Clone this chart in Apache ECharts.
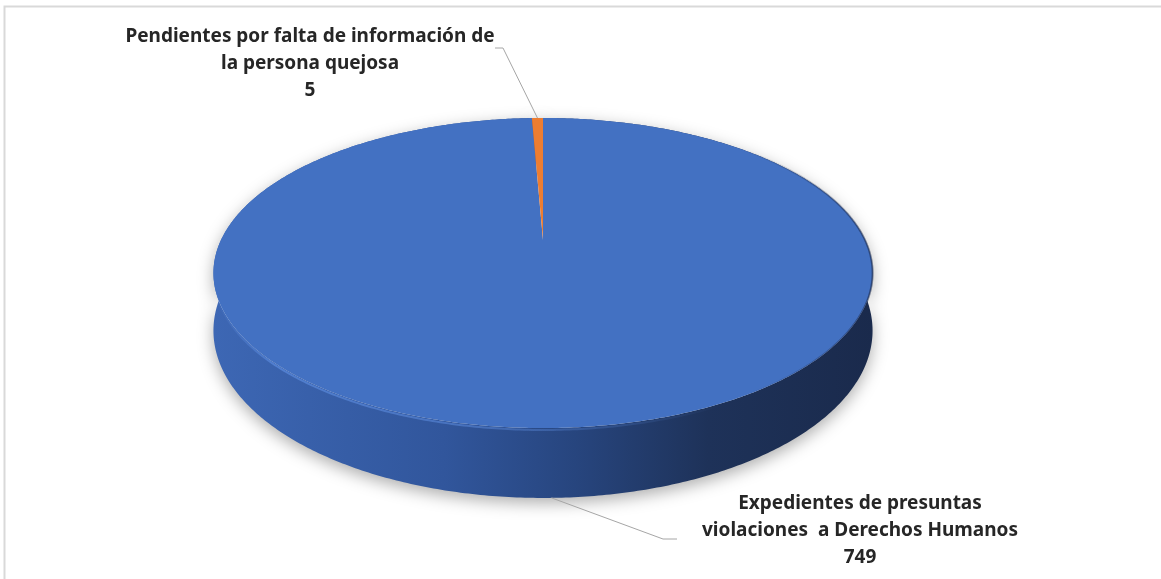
<!DOCTYPE html>
<html>
<head>
<meta charset="utf-8">
<script src="https://cdn.jsdelivr.net/npm/echarts@6/dist/echarts.min.js"></script>
<style>
html, body { margin: 0; padding: 0; background: #fff; }
#pie { width: 1161px; height: 579px; }
</style>
</head>
<body>
<div id="pie"></div>
<script>
const categories = ['Expedientes de presuntas\nviolaciones  a Derechos Humanos', 'Pendientes por falta de información de\nla persona quejosa']
const values = [749, 5]
const colors = ['#4371c2', '#ed7d31']

// tilted pie geometry (screen px)
const cx = 543
const cy = 240
const rx = 322
const ry = 148
const depth = 55
const persp = -0.213
// label centers and leader bends
const labelPos = [[860, 531], [310, 64]]
const leaderBend = [[[663, 539], [677, 539]], [[503, 48], [495, 48]]]

const total = values.reduce((a, b) => a + b, 0)

function proj (phi, h) {
  const u = Math.sin(phi)
  const v = -Math.cos(phi)
  const d = 1 + persp * v
  return [cx + rx * u / d, cy + (ry * v + h) / d]
}

function sliceAngles (i) {
  let start = 0
  for (let j = 0; j < i; j++) start += values[j]
  return [start / total * Math.PI * 2, (start + values[i]) / total * Math.PI * 2]
}

function arc (a0, a1, h) {
  const n = Math.max(2, Math.ceil((a1 - a0) / 0.01))
  const pts = []
  for (let k = 0; k <= n; k++) pts.push(proj(a0 + (a1 - a0) * k / n, h))
  return pts
}

const wallFill = {
  type: 'linear', x: cx - 330, y: 0, x2: cx + 330, y2: 0, global: true,
  colorStops: [
    { offset: 0, color: '#3d67b4' },
    { offset: 0.35, color: '#31569c' },
    { offset: 0.55, color: '#27457e' },
    { offset: 0.75, color: '#1e3259' },
    { offset: 1, color: '#1a2a4c' }
  ]
}
const rimStroke = {
  type: 'linear', x: cx - 330, y: 0, x2: cx + 180, y2: 0, global: true,
  colorStops: [
    { offset: 0, color: 'rgba(100,150,235,0)' },
    { offset: 0.12, color: 'rgba(100,150,235,0.55)' },
    { offset: 0.5, color: 'rgba(100,150,235,0.45)' },
    { offset: 1, color: 'rgba(100,150,235,0)' }
  ]
}
const edgeStroke = {
  type: 'linear', x: cx + 200, y: 0, x2: cx + 330, y2: 0, global: true,
  colorStops: [
    { offset: 0, color: 'rgba(25,40,75,0)' },
    { offset: 1, color: 'rgba(25,40,75,0.55)' }
  ]
}

function renderWall (params, api) {
  const i = params.dataIndex
  const [a0, a1] = sliceAngles(i)
  const pts = arc(a0, a1, 0).concat(arc(a0, a1, depth).reverse())
  return {
    type: 'polygon',
    shape: { points: pts },
    style: {
      fill: i === 0 ? wallFill : '#b35a1f',
      shadowBlur: 16,
      shadowOffsetY: 5,
      shadowColor: 'rgba(0,0,0,0.32)'
    }
  }
}

function renderTop (params, api) {
  const i = params.dataIndex
  const [a0, a1] = sliceAngles(i)
  const children = [{
    type: 'polygon',
    shape: { points: [[cx, cy]].concat(arc(a0, a1, 0)) },
    style: { fill: colors[i] }
  }]
  // bevel highlight on the near rim
  const r0 = Math.max(a0, Math.PI / 2)
  const r1 = Math.min(a1, Math.PI * 1.45)
  if (r1 > r0) {
    children.push({
      type: 'polyline',
      shape: { points: arc(r0, r1, 1.5) },
      style: { fill: null, stroke: rimStroke, lineWidth: 2 }
    })
  }
  // darker rim on the right side
  const e0 = Math.max(a0, Math.PI * 0.2)
  const e1 = Math.min(a1, Math.PI * 0.85)
  if (e1 > e0) {
    children.push({
      type: 'polyline',
      shape: { points: arc(e0, e1, 0) },
      style: { fill: null, stroke: edgeStroke, lineWidth: 2 }
    })
  }
  return { type: 'group', children: children }
}

function renderLabel (params, api) {
  const i = params.dataIndex
  const [a0, a1] = sliceAngles(i)
  const mid = (a0 + a1) / 2
  const anchor = Math.cos(mid) < 0 ? proj(mid, depth) : proj(mid, 0)
  return {
    type: 'group',
    children: [{
      type: 'polyline',
      shape: { points: [anchor].concat(leaderBend[i]) },
      style: { fill: null, stroke: '#a6a6a6', lineWidth: 1 }
    }, {
      type: 'text',
      x: labelPos[i][0],
      y: labelPos[i][1],
      style: {
        text: categories[i] + '\n' + api.value(0),
        fill: '#262626',
        fontFamily: 'Noto Sans',
        fontWeight: 'bold',
        fontSize: 19,
        lineHeight: 27,
        align: 'center',
        verticalAlign: 'middle'
      }
    }]
  }
}

const seriesData = values.map((v, i) => ({ name: categories[i], value: [v, i] }))

const option = {
  backgroundColor: '#fff',
  animation: false,
  graphic: [{
    type: 'rect',
    shape: { x: 4.5, y: 6.5, width: 1300, height: 700 },
    style: { fill: 'none', stroke: '#d9d9d9', lineWidth: 2 },
    silent: true
  }],
  series: [
    { type: 'custom', coordinateSystem: 'none', z: 1, renderItem: renderWall, data: seriesData },
    { type: 'custom', coordinateSystem: 'none', z: 2, renderItem: renderTop, data: seriesData },
    { type: 'custom', coordinateSystem: 'none', z: 3, renderItem: renderLabel, data: seriesData }
  ]
}

const chart = echarts.init(document.getElementById('pie'))
chart.setOption(option)
</script>
</body>
</html>
